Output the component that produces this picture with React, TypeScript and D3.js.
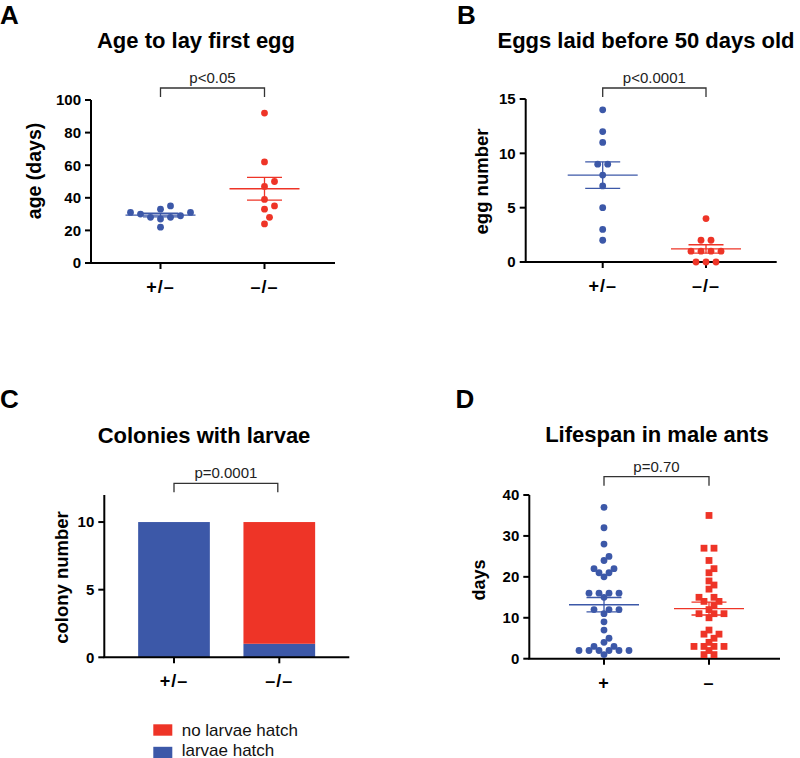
import * as d3 from "d3";

// ---- data ----
const genotypes = ["+/–", "–/–"];
const sexes = ["+", "–"];

// A: age to lay first egg (days)
const ageHet = [35, 31, 28, 30, 22, 27, 29, 28, 31, 33];
const ageHom = [92, 62, 47, 50, 39, 35, 33, 28, 24];
const ageTicks = [0, 20, 40, 60, 80, 100];

// B: eggs laid before 50 days old
const eggsHet = [14, 12, 11, 9, 9, 8, 7, 5, 3, 2];
const eggsHom = [4, 2, 2, 1, 1, 1, 1, 0, 0, 0];
const eggTicks = [0, 5, 10, 15];

// C: colonies with larvae
const larvaeHatch = [10, 1];
const noLarvaeHatch = [0, 9];
const colonyTicks = [0, 5, 10];
const legendLabels = ["no larvae hatch", "larvae hatch"];

// D: lifespan in male ants (days)
const lifespanPlus = [37, 32, 28, 25, 24, 22, 22, 21, 21, 20, 16, 16, 16, 16, 15, 12, 12, 12, 11, 9, 7, 5, 4, 3, 3, 2, 2, 2, 2, 2, 2, 1];
const lifespanMinus = [35, 27, 27, 24, 22, 21, 19, 18, 17, 15, 15, 14, 14, 13, 12, 11, 11, 11, 10, 7, 6, 6, 5, 4, 3, 3, 3, 3, 2, 1, 1];
const lifespanTicks = [0, 10, 20, 30, 40];

const pValues = ["p<0.05", "p<0.0001", "p=0.0001", "p=0.70"];

const BLUE = "#3c58a8";
const RED = "#ee3427";
const FONT = "'Liberation Sans', Arial, sans-serif";

type Layout = {
  left: number;
  right: number;
  bottom: number;
  top: number;
  cat0: number;
  cat1: number;
  max: number;
};

// spread overlapping points sideways, rows of equal values centred
function swarm(values: number[], y: (v: number) => number, minDist = 6.4, step = 10) {
  const sorted = [...values].sort(d3.ascending);
  const groups = d3.groups(sorted, (v) => v);
  const placed: { dx: number; y: number }[] = [];
  const free = (dx: number, py: number) =>
    placed.every((q) => (q.dx - dx) ** 2 + (q.y - py) ** 2 >= minDist * minDist);
  for (const [v, members] of groups) {
    const py = y(v);
    const n = members.length;
    const slots = d3
      .range(n)
      .map((i) => (i - (n - 1) / 2) * step)
      .sort((a, b) => Math.abs(a) - Math.abs(b));
    for (const s of slots) {
      let dx = s;
      if (s === 0) {
        let k = 0;
        while (!free(dx, py)) {
          k++;
          dx = (k % 2 ? 1 : -1) * Math.ceil(k / 2) * (step / 2);
        }
      } else {
        const dir = Math.sign(s);
        while (!free(dx, py)) dx += dir * (step / 2);
      }
      placed.push({ dx, y: py });
    }
  }
  return placed;
}

function Axes({ L, y, ticks, cats, x }: any) {
  return (
    <g>
      <line x1={L.left} x2={L.left} y1={y(L.max)} y2={L.bottom} stroke="#000" strokeWidth={2} />
      <line x1={L.left - 1} x2={L.right} y1={L.bottom} y2={L.bottom} stroke="#000" strokeWidth={2} />
      {ticks.map((t: number) => (
        <g key={t}>
          <line x1={L.left - 6} x2={L.left} y1={y(t)} y2={y(t)} stroke="#000" strokeWidth={2} />
          <text
            x={L.left - 10}
            y={y(t)}
            dy="0.36em"
            textAnchor="end"
            fontSize={15}
            fontWeight="bold"
            fontFamily={FONT}
          >
            {t}
          </text>
        </g>
      ))}
      {cats.map((c: string) => (
        <g key={c}>
          <line x1={x(c)} x2={x(c)} y1={L.bottom} y2={L.bottom + 6} stroke="#000" strokeWidth={2} />
          <text
            x={x(c)}
            y={L.bottom + 30}
            textAnchor="middle"
            fontSize={18}
            fontWeight="bold"
            letterSpacing={1}
            fontFamily={FONT}
          >
            {c}
          </text>
        </g>
      ))}
    </g>
  );
}

function Bracket({ x0, x1, top, label }: any) {
  return (
    <g>
      <path d={`M${x0},${top + 9}V${top}H${x1}V${top + 9}`} fill="none" stroke="#333" strokeWidth={1.3} />
      <text x={(x0 + x1) / 2} y={top - 5} textAnchor="middle" fontSize={15} fill="#222" fontFamily={FONT}>
        {label}
      </text>
    </g>
  );
}

function Titles({ letter, lx, ly, title, tx, ty, ylabel, yx, yy, ysize }: any) {
  return (
    <g>
      <text x={lx} y={ly} fontSize={26} fontWeight="bold" fontFamily={FONT}>
        {letter}
      </text>
      <text x={tx} y={ty} textAnchor="middle" fontSize={22} fontWeight="bold" fontFamily={FONT}>
        {title}
      </text>
      <text
        transform={`translate(${yx},${yy}) rotate(-90)`}
        textAnchor="middle"
        fontSize={ysize}
        fontWeight="bold"
        fontFamily={FONT}
      >
        {ylabel}
      </text>
    </g>
  );
}

function ScatterGroup({ values, cx, y, color, square, minDist }: any) {
  const pts = swarm(values, y, minDist);
  const m = d3.mean(values) as number;
  const sem = (d3.deviation(values) as number) / Math.sqrt(values.length);
  const r = 3.4;
  return (
    <g>
      {pts.map((p, i) =>
        square ? (
          <rect key={i} x={cx + p.dx - r} y={p.y - r} width={2 * r} height={2 * r} fill={color} />
        ) : (
          <circle key={i} cx={cx + p.dx} cy={p.y} r={r} fill={color} />
        )
      )}
      <g stroke={color} strokeWidth={1.3}>
        <line x1={cx - 35} x2={cx + 35} y1={y(m)} y2={y(m)} />
        <line x1={cx - 17.5} x2={cx + 17.5} y1={y(m + sem)} y2={y(m + sem)} />
        <line x1={cx - 17.5} x2={cx + 17.5} y1={y(m - sem)} y2={y(m - sem)} />
        <line x1={cx} x2={cx} y1={y(m + sem)} y2={y(m - sem)} />
      </g>
    </g>
  );
}

function ScatterPanel({ L, ticks, cats, groups, square, p, bracketTop, minDist }: any) {
  const y = d3.scaleLinear().domain([0, L.max]).range([L.bottom, L.top]);
  const x = d3.scalePoint<string>().domain(cats).range([L.cat0, L.cat1]);
  return (
    <g>
      <Axes L={L} y={y} ticks={ticks} cats={cats} x={x} />
      {groups.map((vals: number[], i: number) => (
        <ScatterGroup
          key={i}
          values={vals}
          cx={x(cats[i])}
          y={y}
          color={i === 0 ? BLUE : RED}
          square={square && i === 1}
          minDist={minDist}
        />
      ))}
      <Bracket x0={x(cats[0])} x1={x(cats[1])} top={bracketTop} label={p} />
    </g>
  );
}

function BarPanel() {
  const L: Layout = { left: 104.3, right: 349.3, bottom: 657.3, top: 495, cat0: 174, cat1: 279.3, max: 12 };
  const y = d3.scaleLinear().domain([0, L.max]).range([L.bottom, L.top]);
  const x = d3.scalePoint<string>().domain(genotypes).range([L.cat0, L.cat1]);
  const rows = genotypes.map((g, i) => ({ g, hatch: larvaeHatch[i], none: noLarvaeHatch[i] }));
  const series = d3.stack<any>().keys(["hatch", "none"])(rows);
  const bw = 71.7;
  return (
    <g>
      {series.map((s) =>
        s.map((d: any, i: number) => (
          <rect
            key={s.key + i}
            x={(x(d.data.g) as number) - bw / 2}
            y={y(d[1])}
            width={bw}
            height={y(d[0]) - y(d[1])}
            fill={s.key === "hatch" ? BLUE : RED}
          />
        ))
      )}
      <Axes L={L} y={y} ticks={colonyTicks} cats={genotypes} x={x} />
      <Bracket x0={x(genotypes[0])} x1={(x(genotypes[1]) as number) - 1.5} top={483.3} label={pValues[2]} />
      {legendLabels.map((lab, i) => (
        <g key={lab}>
          <rect x={153.3} y={724.3 + i * 22.5} width={19} height={11.4} fill={i === 0 ? RED : BLUE} />
          <text x={181.7} y={735.5 + i * 20} fontSize={17} fontFamily={FONT} fill="#111">
            {lab}
          </text>
        </g>
      ))}
    </g>
  );
}

export default function App() {
  const LA: Layout = { left: 91, right: 335, bottom: 263, top: 100, cat0: 160.5, cat1: 264.5, max: 100 };
  const LB: Layout = { left: 525.7, right: 776.7, bottom: 262, top: 99, cat0: 602.7, cat1: 706, max: 15 };
  const LD: Layout = { left: 529.3, right: 780, bottom: 658.7, top: 495, cat0: 604, cat1: 709, max: 40 };
  return (
    <svg
      width={800}
      height={758}
      style={{ position: "absolute", left: 0, top: 0, background: "#fff" }}
    >
      <Titles letter="A" lx={0} ly={24} title="Age to lay first egg" tx={196} ty={47.7}
        ylabel="age (days)" yx={41} yy={171} ysize={19.5} />
      <ScatterPanel L={LA} ticks={ageTicks} cats={genotypes} groups={[ageHet, ageHom]} p={pValues[0]}
        bracketTop={88} minDist={7.5} />

      <Titles letter="B" lx={457} ly={24} title="Eggs laid before 50 days old" tx={646} ty={48.3}
        ylabel="egg number" yx={488} yy={181.5} ysize={18.5} />
      <ScatterPanel L={LB} ticks={eggTicks} cats={genotypes} groups={[eggsHet, eggsHom]} p={pValues[1]}
        bracketTop={88} minDist={7.5} />

      <Titles letter="C" lx={0} ly={408} title="Colonies with larvae" tx={204} ty={443.3}
        ylabel="colony number" yx={68} yy={577.5} ysize={18.5} />
      <BarPanel />

      <Titles letter="D" lx={455.5} ly={408} title="Lifespan in male ants" tx={657} ty={441.7}
        ylabel="days" yx={485} yy={580} ysize={18} />
      <ScatterPanel L={LD} ticks={lifespanTicks} cats={sexes} groups={[lifespanPlus, lifespanMinus]} square
        p={pValues[3]} bracketTop={476.7} minDist={6.4} />
    </svg>
  );
}
